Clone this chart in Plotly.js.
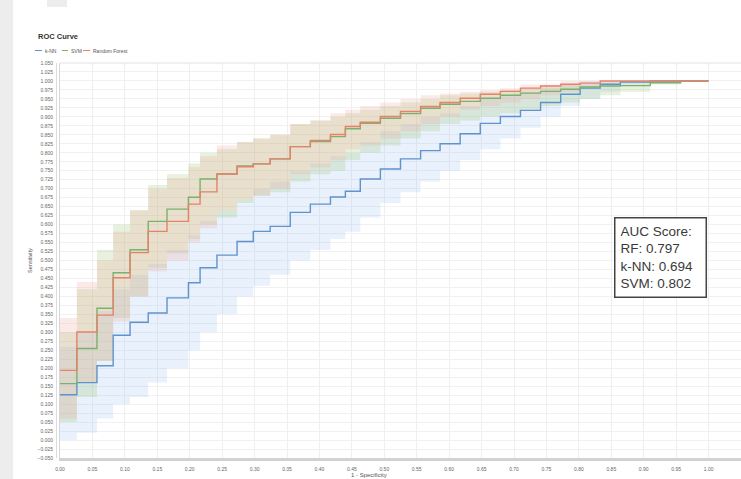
<!DOCTYPE html>
<html>
<head>
<meta charset="utf-8">
<script src="https://cdn.plot.ly/plotly-3.0.1.min.js"></script>
<style>
html,body{margin:0;padding:0;background:#fff;}
#chart{width:741px;height:479px;}
</style>
</head>
<body>
<div id="chart"></div>
<script>
// False positive rate (1 - Specificity) step positions
const fpr = [0, 0.026, 0.057, 0.082, 0.108, 0.136, 0.165, 0.198, 0.216, 0.242, 0.273, 0.298, 0.324, 0.355, 0.386, 0.417, 0.440, 0.463, 0.494, 0.525, 0.556, 0.586, 0.617, 0.648, 0.679, 0.710, 0.741, 0.772, 0.802, 0.833, 0.864, 0.910, 0.957, 1.000];

// k-NN
const knnTpr = [0.126, 0.160, 0.207, 0.292, 0.328, 0.354, 0.396, 0.438, 0.480, 0.515, 0.553, 0.581, 0.595, 0.634, 0.657, 0.677, 0.693, 0.727, 0.755, 0.783, 0.806, 0.825, 0.853, 0.882, 0.901, 0.918, 0.940, 0.963, 0.980, 0.991, 0.997, 1.0, 1.0, 1.0];
const knnLow = [0.00, 0.02, 0.06, 0.10, 0.12, 0.16, 0.20, 0.25, 0.30, 0.35, 0.40, 0.43, 0.46, 0.50, 0.53, 0.56, 0.58, 0.62, 0.66, 0.69, 0.72, 0.75, 0.78, 0.81, 0.84, 0.87, 0.90, 0.93, 0.95, 0.97, 0.99, 1.0, 1.0, 1.0];
const knnUp = [0.26, 0.30, 0.36, 0.42, 0.46, 0.49, 0.53, 0.57, 0.61, 0.64, 0.67, 0.70, 0.72, 0.75, 0.77, 0.79, 0.80, 0.83, 0.86, 0.88, 0.90, 0.91, 0.93, 0.95, 0.96, 0.97, 0.98, 0.99, 1.0, 1.0, 1.0, 1.0, 1.0, 1.0];

// SVM
const svmTpr = [0.157, 0.255, 0.367, 0.466, 0.530, 0.609, 0.643, 0.676, 0.727, 0.741, 0.763, 0.769, 0.783, 0.817, 0.831, 0.845, 0.867, 0.882, 0.896, 0.909, 0.924, 0.935, 0.943, 0.952, 0.960, 0.966, 0.971, 0.977, 0.983, 0.986, 0.987, 0.995, 1.0, 1.0];
const svmLow = [0.05, 0.12, 0.22, 0.34, 0.40, 0.48, 0.52, 0.56, 0.60, 0.62, 0.66, 0.68, 0.69, 0.72, 0.74, 0.75, 0.78, 0.80, 0.82, 0.84, 0.86, 0.88, 0.89, 0.90, 0.91, 0.92, 0.93, 0.94, 0.95, 0.96, 0.97, 0.99, 1.0, 1.0];
const svmUp = [0.30, 0.42, 0.53, 0.60, 0.64, 0.71, 0.74, 0.77, 0.80, 0.81, 0.83, 0.84, 0.85, 0.88, 0.89, 0.90, 0.91, 0.92, 0.93, 0.94, 0.95, 0.96, 0.965, 0.97, 0.975, 0.98, 0.985, 0.99, 0.99, 0.995, 1.0, 1.0, 1.0, 1.0];

// Random Forest
const rfTpr = [0.194, 0.301, 0.348, 0.452, 0.522, 0.581, 0.609, 0.657, 0.691, 0.741, 0.761, 0.769, 0.783, 0.817, 0.834, 0.851, 0.873, 0.885, 0.901, 0.915, 0.929, 0.940, 0.952, 0.963, 0.971, 0.980, 0.986, 0.991, 0.994, 1.0, 1.0, 1.0, 1.0, 1.0];
const rfLow = [0.06, 0.16, 0.22, 0.33, 0.40, 0.47, 0.50, 0.55, 0.59, 0.64, 0.67, 0.68, 0.70, 0.74, 0.76, 0.78, 0.81, 0.82, 0.84, 0.86, 0.88, 0.90, 0.92, 0.93, 0.94, 0.95, 0.96, 0.97, 0.98, 0.99, 1.0, 1.0, 1.0, 1.0];
const rfUp = [0.34, 0.44, 0.50, 0.58, 0.64, 0.70, 0.73, 0.76, 0.79, 0.82, 0.83, 0.84, 0.85, 0.88, 0.89, 0.91, 0.92, 0.93, 0.94, 0.95, 0.96, 0.965, 0.97, 0.975, 0.98, 0.99, 0.99, 1.0, 1.0, 1.0, 1.0, 1.0, 1.0, 1.0];

const seriesNames = ["k-NN", "SVM", "Random Forest"];
const aucLabels = ["AUC Score:", "RF: 0.797", "k-NN: 0.694", "SVM: 0.802"];
const titleText = "ROC Curve";
const xTitle = "1 - Specificity";
const yTitle = "Sensitivity";

const colors = {
  knn: "#5f93cd", knnFill: "rgba(120,170,235,0.17)",
  svm: "#78b26e", svmFill: "rgba(160,200,120,0.25)",
  rf: "#e6816a", rfFill: "rgba(240,160,150,0.22)"
};
const FONT = "Liberation Sans, Arial, sans-serif";

function band(low, up, fill) {
  return [
    {x: fpr, y: low, type: "scatter", mode: "lines", line: {width: 0, shape: "hv"}, hoverinfo: "skip", showlegend: false},
    {x: fpr, y: up, type: "scatter", mode: "lines", line: {width: 0, shape: "hv"}, fill: "tonexty", fillcolor: fill, hoverinfo: "skip", showlegend: false}
  ];
}
function curve(y, color, name) {
  return {x: fpr, y: y, type: "scatter", mode: "lines", name: name, line: {color: color, width: 1.4, shape: "hv"}, showlegend: false};
}

const data = [
  ...band(knnLow, knnUp, colors.knnFill),
  ...band(svmLow, svmUp, colors.svmFill),
  ...band(rfLow, rfUp, colors.rfFill),
  curve(knnTpr, colors.knn, seriesNames[0]),
  curve(svmTpr, colors.svm, seriesNames[1]),
  curve(rfTpr, colors.rf, seriesNames[2])
];

// px -> paper helpers for decorative elements outside plot
const L = 60, T = 63, W = 681, H = 395;
const px = v => (v - L) / W;
const py = v => 1 - (v - T) / H;

const legendItems = [
  {x0: 35, x1: 42, tx: 43, color: colors.knn, text: seriesNames[0]},
  {x0: 62, x1: 68, tx: 69, color: colors.svm, text: seriesNames[1]},
  {x0: 83, x1: 90, tx: 91, color: colors.rf, text: seriesNames[2]}
];

const shapes = [
  {type: "rect", xref: "paper", yref: "paper", x0: px(0), x1: px(13), y0: py(479), y1: py(0), fillcolor: "#ededed", line: {width: 0}, layer: "below"},
  {type: "rect", xref: "paper", yref: "paper", x0: px(47), x1: px(67), y0: py(7), y1: py(0), fillcolor: "#ededed", line: {width: 0}, layer: "below"},
  {type: "line", xref: "paper", yref: "paper", x0: 0, x1: 1, y0: 1, y1: 1, line: {color: "#e2e2e2", width: 1}},
  {type: "line", xref: "paper", yref: "paper", x0: px(56.5), x1: px(56.5), y0: 0, y1: 1, line: {color: "#dcdcdc", width: 1}}
];
legendItems.forEach(it => shapes.push({type: "line", xref: "paper", yref: "paper", x0: px(it.x0), x1: px(it.x1), y0: py(50.5), y1: py(50.5), line: {color: it.color, width: 1}}));

const annotations = [
  {xref: "paper", yref: "paper", x: px(36), y: py(36), xanchor: "left", yanchor: "middle", showarrow: false,
   text: "<b>" + titleText + "</b>", font: {family: FONT, size: 7.5, color: "#333"}},
  {xref: "paper", yref: "paper", x: px(369), y: py(475), xanchor: "center", yanchor: "middle", showarrow: false,
   text: xTitle, font: {family: FONT, size: 6, color: "#555"}},
  {xref: "x", yref: "y", x: 0.926, y: 0.508, xanchor: "center", yanchor: "middle", showarrow: false,
   text: aucLabels.join("<br>"), align: "left", width: 80, height: 68, borderpad: 5,
   bordercolor: "#444", borderwidth: 1.5, bgcolor: "#fff", font: {family: FONT, size: 13.5, color: "#3a3a3a"}}
];
legendItems.forEach(it => annotations.push({xref: "paper", yref: "paper", x: px(it.tx), y: py(50.5), xanchor: "left", yanchor: "middle", showarrow: false, text: it.text, font: {family: FONT, size: 5, color: "#555"}}));

const layout = {
  width: 741, height: 479,
  margin: {l: L, r: 0, t: T, b: 479 - T - H, pad: 0},
  paper_bgcolor: "#fff", plot_bgcolor: "#fff",
  showlegend: false,
  font: {family: FONT, color: "#666"},
  xaxis: {
    range: [0, 1.05], dtick: 0.05, tick0: 0, tickformat: ".2f",
    tickfont: {size: 5, color: "#666"}, ticks: "", ticklabelstandoff: 4,
    showgrid: true, gridcolor: "#efefef", gridwidth: 1, zeroline: false,
    showline: true, linecolor: "#d2d2d2", linewidth: 3
  },
  yaxis: {
    range: [-0.05, 1.05], dtick: 0.025, tick0: 0, tickformat: ".3f",
    tickfont: {size: 5, color: "#666"}, ticks: "", ticklabelstandoff: 5,
    showgrid: true, gridcolor: "#f1f1f1", gridwidth: 1, zeroline: false,
    showline: true, linecolor: "#d6d6d6", linewidth: 1,
    title: {text: yTitle, font: {size: 5.5, color: "#555"}, standoff: 4}
  },
  shapes: shapes,
  annotations: annotations
};

Plotly.newPlot("chart", data, layout, {displayModeBar: false, staticPlot: true});
</script>
</body>
</html>
